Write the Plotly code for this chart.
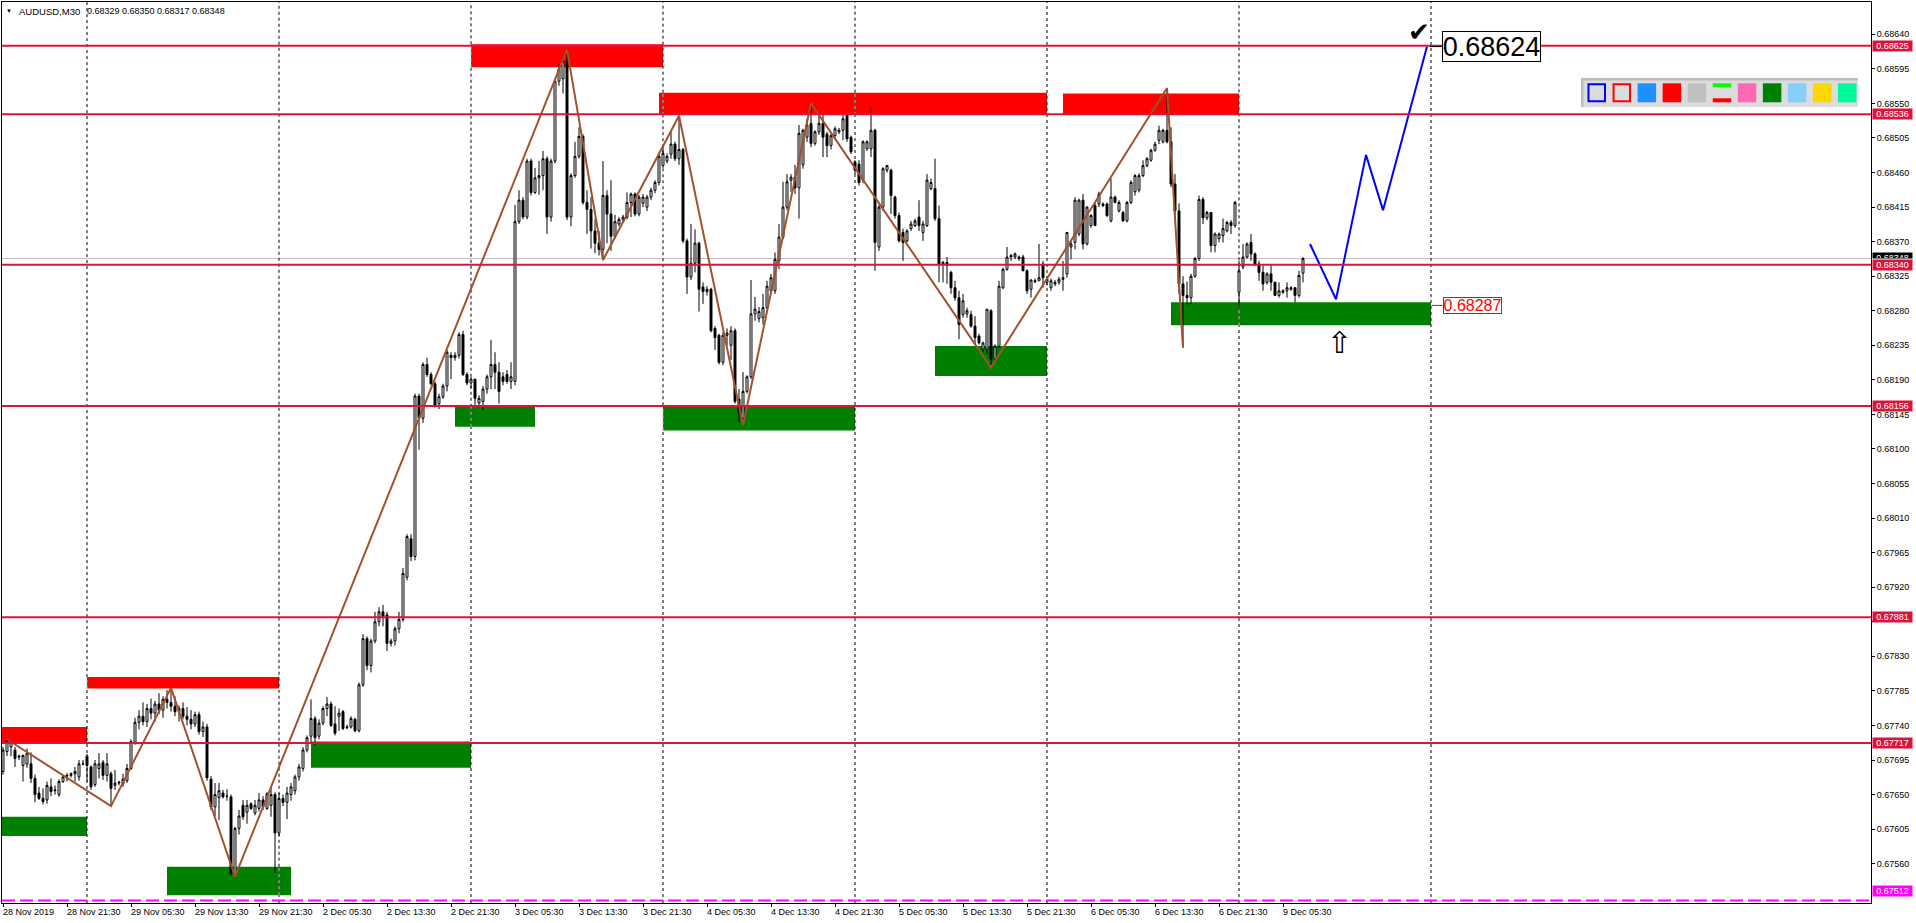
import plotly.graph_objects as go

# ---------------- data (prices in points above 0.67000) ----------------
opens = [
    680, 706, 712, 708, 700, 688, 690, 690, 671, 652,
    645, 643, 660, 655, 650, 667, 674, 675, 677, 673,
    690, 700, 686, 663, 684, 692, 675, 677, 662, 665,
    664, 668, 684, 718, 744, 752, 745, 762, 756, 768,
    760, 774, 770, 765, 758, 762, 752, 748, 742, 754,
    732, 738, 670, 634, 646, 652, 648, 647, 547, 606,
    636, 627, 638, 626, 632, 643, 632, 636, 650, 600,
    645, 640, 650, 655, 673, 684, 708, 726, 749, 726,
    743, 762, 768, 742, 752, 758, 737, 738, 748, 733,
    793, 853, 818, 850, 875, 888, 884, 847, 850, 866,
    878, 933, 983, 960, 1169, 1140, 1210, 1197, 1185, 1159,
    1168, 1182, 1222, 1219, 1222, 1249, 1197, 1186, 1191, 1160,
    1162, 1178, 1194, 1210, 1200, 1194, 1197, 1188, 1188, 1396,
    1424, 1402, 1475, 1434, 1453, 1456, 1478, 1402, 1475, 1579,
    1582, 1605, 1402, 1456, 1481, 1507, 1421, 1412, 1384, 1368,
    1360, 1430, 1406, 1377, 1393, 1399, 1402, 1421, 1432, 1406,
    1420, 1415, 1428, 1437, 1447, 1469, 1475, 1484, 1497, 1478,
    1490, 1371, 1324, 1342, 1368, 1311, 1305, 1308, 1257, 1248,
    1213, 1248, 1235, 1254, 1165, 1140, 1175, 1194, 1276, 1270,
    1271, 1284, 1306, 1306, 1345, 1376, 1415, 1450, 1454, 1440,
    1470, 1506, 1524, 1498, 1513, 1524, 1510, 1495, 1508, 1513,
    1515, 1535, 1506, 1474, 1471, 1450, 1491, 1491, 1515, 1363,
    1415, 1463, 1463, 1428, 1404, 1382, 1371, 1387, 1391, 1402,
    1382, 1391, 1439, 1439, 1400, 1341, 1343, 1330, 1310, 1297,
    1275, 1276, 1275, 1260, 1247, 1230, 1230, 1280, 1217, 1234,
    1310, 1334, 1352, 1350, 1348, 1350, 1332, 1308, 1318, 1319,
    1341, 1317, 1310, 1315, 1317, 1321, 1328, 1363, 1369, 1380,
    1424, 1367, 1391, 1417, 1419, 1419, 1419, 1397, 1428, 1410,
    1408, 1397, 1421, 1435, 1437, 1456, 1469, 1476, 1489, 1502,
    1500, 1515, 1500, 1445, 1410, 1315, 1300, 1297, 1325, 1348,
    1425, 1401, 1408, 1365, 1374, 1378, 1384, 1395, 1391, 1304,
    1337, 1350, 1369, 1354, 1341, 1330, 1317, 1328, 1317, 1300,
    1304, 1306, 1310, 1310, 1300, 1329,
]
highs = [
    712, 722, 720, 712, 702, 702, 710, 705, 676, 660,
    658, 667, 671, 662, 670, 675, 678, 679, 686, 695,
    695, 703, 688, 695, 704, 695, 704, 680, 682, 668,
    677, 690, 722, 750, 760, 770, 768, 775, 772, 782,
    778, 786, 789, 778, 766, 770, 764, 760, 758, 758,
    745, 742, 674, 665, 665, 656, 657, 650, 608, 630,
    643, 643, 640, 643, 652, 648, 653, 660, 653, 652,
    650, 660, 665, 676, 690, 712, 727, 774, 752, 748,
    765, 777, 771, 765, 762, 760, 741, 752, 750, 796,
    859, 856, 853, 888, 894, 897, 888, 853, 869, 888,
    945, 989, 989, 1172, 1172, 1213, 1219, 1200, 1188, 1172,
    1185, 1229, 1226, 1226, 1252, 1254, 1200, 1194, 1191, 1170,
    1182, 1197, 1242, 1226, 1213, 1200, 1203, 1213, 1418, 1437,
    1428, 1478, 1478, 1466, 1475, 1488, 1481, 1478, 1582, 1601,
    1610, 1620, 1459, 1500, 1519, 1510, 1437, 1428, 1399, 1384,
    1475, 1437, 1450, 1405, 1402, 1405, 1434, 1434, 1434, 1431,
    1432, 1431, 1440, 1450, 1484, 1494, 1485, 1513, 1500, 1534,
    1492, 1374, 1393, 1386, 1370, 1317, 1312, 1310, 1260, 1250,
    1252, 1257, 1260, 1257, 1178, 1200, 1196, 1320, 1298, 1285,
    1302, 1319, 1328, 1356, 1393, 1448, 1458, 1458, 1470, 1522,
    1517, 1530, 1550, 1515, 1537, 1537, 1513, 1510, 1520, 1518,
    1537, 1537, 1508, 1476, 1476, 1502, 1502, 1545, 1517, 1418,
    1467, 1470, 1465, 1430, 1408, 1387, 1386, 1397, 1400, 1424,
    1397, 1458, 1452, 1478, 1417, 1345, 1350, 1332, 1319, 1306,
    1302, 1284, 1280, 1273, 1250, 1240, 1282, 1282, 1236, 1319,
    1336, 1363, 1354, 1356, 1352, 1353, 1334, 1321, 1322, 1367,
    1345, 1325, 1322, 1320, 1324, 1345, 1382, 1371, 1428, 1426,
    1432, 1416, 1406, 1420, 1435, 1421, 1421, 1452, 1430, 1424,
    1410, 1423, 1450, 1458, 1459, 1476, 1480, 1491, 1500, 1521,
    1517, 1570, 1519, 1458, 1420, 1325, 1318, 1328, 1350, 1430,
    1428, 1410, 1408, 1382, 1382, 1400, 1397, 1398, 1423, 1345,
    1367, 1369, 1380, 1356, 1345, 1339, 1330, 1341, 1318, 1317,
    1308, 1317, 1312, 1310, 1332, 1350,
]
lows = [
    676, 700, 700, 686, 695, 667, 685, 665, 640, 643,
    637, 638, 648, 650, 647, 665, 667, 672, 667, 668,
    688, 667, 656, 660, 671, 669, 667, 635, 656, 662,
    660, 665, 682, 715, 735, 740, 738, 748, 745, 755,
    750, 762, 758, 752, 745, 748, 740, 735, 738, 728,
    725, 668, 630, 622, 617, 645, 642, 545, 543, 598,
    617, 612, 630, 623, 628, 630, 630, 621, 548, 596,
    635, 618, 642, 650, 668, 680, 705, 716, 714, 722,
    740, 752, 738, 727, 733, 734, 735, 736, 731, 731,
    790, 812, 809, 847, 869, 869, 837, 843, 844, 860,
    875, 929, 954, 955, 1099, 1134, 1194, 1183, 1154, 1152,
    1165, 1175, 1191, 1215, 1218, 1195, 1183, 1179, 1156, 1155,
    1150, 1172, 1178, 1178, 1159, 1183, 1185, 1178, 1183, 1393,
    1399, 1399, 1430, 1432, 1431, 1437, 1380, 1396, 1472, 1573,
    1563, 1398, 1390, 1453, 1478, 1418, 1380, 1361, 1355, 1352,
    1346, 1368, 1358, 1374, 1390, 1396, 1399, 1402, 1403, 1403,
    1415, 1410, 1424, 1433, 1443, 1466, 1472, 1478, 1475, 1470,
    1368, 1302, 1320, 1330, 1279, 1289, 1300, 1252, 1229, 1210,
    1209, 1235, 1216, 1159, 1135, 1131, 1172, 1191, 1267, 1265,
    1262, 1282, 1302, 1302, 1334, 1373, 1411, 1435, 1432, 1400,
    1465, 1500, 1493, 1495, 1509, 1480, 1480, 1490, 1505, 1510,
    1502, 1500, 1484, 1458, 1443, 1446, 1488, 1480, 1332, 1358,
    1410, 1460, 1406, 1400, 1369, 1345, 1369, 1384, 1389, 1384,
    1371, 1389, 1437, 1397, 1317, 1317, 1315, 1302, 1293, 1243,
    1271, 1271, 1258, 1236, 1236, 1226, 1223, 1206, 1214, 1232,
    1308, 1332, 1345, 1347, 1345, 1332, 1302, 1297, 1316, 1319,
    1310, 1313, 1306, 1312, 1314, 1306, 1323, 1347, 1360, 1377,
    1360, 1365, 1388, 1390, 1415, 1415, 1402, 1395, 1420, 1408,
    1396, 1395, 1419, 1430, 1434, 1454, 1467, 1474, 1487, 1497,
    1498, 1498, 1441, 1400, 1302, 1232, 1288, 1289, 1323, 1345,
    1393, 1398, 1356, 1356, 1369, 1369, 1382, 1380, 1388, 1284,
    1334, 1348, 1345, 1338, 1319, 1306, 1314, 1306, 1299, 1297,
    1302, 1297, 1306, 1291, 1297, 1317,
]
closes = [
    708, 720, 718, 697, 699, 701, 704, 671, 650, 645,
    641, 662, 654, 656, 667, 673, 675, 677, 680, 690,
    690, 688, 660, 690, 690, 675, 690, 658, 665, 666,
    670, 684, 719, 744, 752, 745, 762, 756, 768, 760,
    774, 770, 765, 758, 762, 752, 748, 742, 754, 732,
    738, 672, 634, 650, 655, 647, 648, 547, 606, 622,
    621, 636, 632, 636, 643, 634, 651, 650, 600, 645,
    640, 652, 660, 673, 686, 708, 724, 749, 724, 743,
    762, 768, 740, 730, 756, 736, 738, 749, 733, 793,
    853, 818, 850, 875, 888, 882, 847, 850, 866, 878,
    938, 986, 960, 1169, 1140, 1210, 1197, 1185, 1156, 1168,
    1182, 1226, 1219, 1222, 1249, 1197, 1186, 1191, 1166, 1166,
    1178, 1194, 1210, 1200, 1175, 1188, 1188, 1194, 1396, 1424,
    1402, 1475, 1434, 1453, 1456, 1478, 1402, 1475, 1579, 1595,
    1605, 1402, 1456, 1481, 1507, 1421, 1412, 1384, 1368, 1360,
    1430, 1406, 1377, 1396, 1399, 1402, 1421, 1432, 1406, 1428,
    1428, 1428, 1437, 1447, 1481, 1485, 1481, 1497, 1478, 1490,
    1371, 1324, 1342, 1368, 1308, 1305, 1308, 1254, 1245, 1213,
    1248, 1251, 1254, 1162, 1147, 1175, 1194, 1276, 1282, 1279,
    1284, 1312, 1323, 1347, 1376, 1415, 1448, 1454, 1440, 1511,
    1515, 1522, 1498, 1513, 1524, 1506, 1495, 1508, 1517, 1515,
    1530, 1504, 1487, 1463, 1447, 1500, 1500, 1515, 1369, 1415,
    1465, 1469, 1430, 1404, 1371, 1369, 1384, 1393, 1397, 1391,
    1393, 1450, 1447, 1400, 1341, 1343, 1339, 1310, 1297, 1262,
    1293, 1280, 1260, 1245, 1238, 1238, 1282, 1217, 1234, 1312,
    1334, 1350, 1350, 1354, 1350, 1332, 1306, 1320, 1319, 1323,
    1323, 1321, 1319, 1317, 1321, 1323, 1382, 1367, 1424, 1424,
    1367, 1415, 1404, 1391, 1432, 1417, 1404, 1428, 1421, 1421,
    1397, 1421, 1447, 1456, 1456, 1469, 1478, 1489, 1497, 1515,
    1515, 1500, 1445, 1410, 1315, 1300, 1297, 1325, 1348, 1425,
    1401, 1408, 1365, 1380, 1380, 1387, 1395, 1391, 1421, 1332,
    1350, 1367, 1354, 1341, 1330, 1315, 1328, 1317, 1300, 1306,
    1306, 1310, 1308, 1300, 1326, 1348,
]

x_tick_bars = [0, 16, 32, 48, 64, 80, 96, 112, 128, 144, 160, 176, 192, 208,
               224, 240, 256, 272, 288, 304, 320]
x_tick_labels = ["28 Nov 2019", "28 Nov 21:30", "29 Nov 05:30", "29 Nov 13:30",
                 "29 Nov 21:30", "2 Dec 05:30", "2 Dec 13:30", "2 Dec 21:30",
                 "3 Dec 05:30", "3 Dec 13:30", "3 Dec 21:30", "4 Dec 05:30",
                 "4 Dec 13:30", "4 Dec 21:30", "5 Dec 05:30", "5 Dec 13:30",
                 "5 Dec 21:30", "6 Dec 05:30", "6 Dec 13:30", "6 Dec 21:30",
                 "9 Dec 05:30"]
y_tick_labels = ["0.67560", "0.67605", "0.67650", "0.67695", "0.67740", "0.67785",
                 "0.67830", "0.67875", "0.67920", "0.67965", "0.68010", "0.68055",
                 "0.68100", "0.68145", "0.68190", "0.68235", "0.68280", "0.68325",
                 "0.68370", "0.68415", "0.68460", "0.68505", "0.68550", "0.68595",
                 "0.68640"]
# tick labels fully covered by price-line labels in the reference
y_tick_hidden = ["0.67875"]

level_labels = ["0.68625", "0.68536", "0.68340", "0.68156", "0.67881", "0.67717"]
support_label = "0.67512"
bid_label = "0.68348"

red_zones = [(-2, 21, 0.67717, 0.67738), (21, 69, 0.67788, 0.67803),
             (117, 165, 0.68597, 0.68627), (164, 261, 0.68535, 0.68564),
             (265, 309, 0.68536, 0.68563)]
green_zones = [(-2, 21, 0.67596, 0.67621), (41, 72, 0.67519, 0.67556),
               (77, 117, 0.67685, 0.67719), (113, 133, 0.68129, 0.68155),
               (165, 213, 0.68124, 0.68157), (233, 261, 0.68195, 0.68234),
               (292, 357, 0.68261, 0.68291)]

zigzag_bars = [1, 27, 42, 58, 141, 150, 169, 185, 202, 247, 291, 295]
zigzag_kind = ["H", "L", "H", "L", "H", "L", "H", "L", "H", "L", "H", "L"]

forecast_bars = [326.75, 333.25, 340.75, 345, 356]
forecast_prices = [0.68367, 0.68295, 0.68483, 0.68411, 0.68624]

grid_bars = [21, 69, 117, 165, 213, 261, 309, 357]

header_symbol = "AUDUSD,M30"
header_ohlc = "0.68329 0.68350 0.68317 0.68348"
target_label = "0.68624"
entry_label = "0.68287"

# ---------------- geometry ----------------
W, H = 1916, 923
ML, MR, MT, MB = 2, 45, 2, 20
X0, X1 = -0.25, 467.0
Y0, Y1 = 0.6750881, 0.6868206
FONT = "Liberation Sans, Arial, sans-serif"


def px(xp):
    return (xp - ML) / (W - ML - MR)


def py(yp):
    return (H - MB - yp) / (H - MT - MB)


def pr(v):
    return round(0.67 + v / 100000.0, 5)


n = min(len(opens), len(highs), len(lows), len(closes))
idx = list(range(n))
O = [pr(v) for v in opens[:n]]
Hh = [pr(v) for v in highs[:n]]
L = [pr(v) for v in lows[:n]]
C = [pr(v) for v in closes[:n]]

fig = go.Figure()

fig.add_trace(go.Candlestick(
    x=idx, open=O, high=Hh, low=L, close=C,
    increasing=dict(line=dict(color="black", width=1), fillcolor="white"),
    decreasing=dict(line=dict(color="black", width=1), fillcolor="black"),
    whiskerwidth=0, hoverinfo="skip", showlegend=False))

zz_y = [Hh[b] if k == "H" else L[b] for b, k in zip(zigzag_bars, zigzag_kind)]
fig.add_trace(go.Scatter(x=zigzag_bars, y=zz_y, mode="lines",
                         line=dict(color="#A0522D", width=2),
                         hoverinfo="skip", showlegend=False))
fig.add_trace(go.Scatter(x=forecast_bars, y=forecast_prices, mode="lines",
                         line=dict(color="#0000FF", width=2),
                         hoverinfo="skip", showlegend=False))

shapes = []
for (a, b, lo, hi) in red_zones:
    shapes.append(dict(type="rect", xref="x", yref="y", x0=a, x1=b, y0=lo, y1=hi,
                       fillcolor="#FF0000", line=dict(width=0), layer="below"))
for (a, b, lo, hi) in green_zones:
    shapes.append(dict(type="rect", xref="x", yref="y", x0=a, x1=b, y0=lo, y1=hi,
                       fillcolor="#008000", line=dict(width=0), layer="below"))

# bid line
bid = float(bid_label)
shapes.append(dict(type="line", xref="paper", yref="y", x0=0, x1=1, y0=bid, y1=bid,
                   line=dict(color="#C0C0C0", width=1), layer="below"))

# day separators (inverted colour where they cross zones)
for g in grid_bars:
    cuts = []
    for (a, b, lo, hi) in red_zones:
        if a <= g < b:
            cuts.append((lo, hi, "#00FFFF"))
    for (a, b, lo, hi) in green_zones:
        if a <= g < b:
            cuts.append((lo, hi, "#FF7FFF"))
    cuts.sort()
    start = Y0
    for lo, hi, col in cuts:
        if lo > start:
            shapes.append(dict(type="line", xref="x", yref="y", x0=g, x1=g, y0=start, y1=lo,
                               line=dict(color="black", width=1, dash="3px,3px"), layer="below"))
        shapes.append(dict(type="line", xref="x", yref="y", x0=g, x1=g, y0=lo, y1=hi,
                           line=dict(color=col, width=1, dash="3px,3px"), layer="below"))
        start = hi
    shapes.append(dict(type="line", xref="x", yref="y", x0=g, x1=g, y0=start, y1=Y1,
                       line=dict(color="black", width=1, dash="3px,3px"), layer="below"))

# horizontal levels
for lab in level_labels:
    v = float(lab)
    shapes.append(dict(type="line", xref="paper", yref="y", x0=0, x1=1, y0=v, y1=v,
                       line=dict(color="#DC143C", width=2), layer="above"))
sv = float(support_label)
shapes.append(dict(type="line", xref="paper", yref="y", x0=0, x1=1, y0=sv, y1=sv,
                   line=dict(color="#FF00FF", width=2, dash="13px,5px"), layer="above"))

# connectors for price labels
tv = float(target_label)
ev = float(entry_label)
shapes.append(dict(type="line", xref="x", yref="y", x0=356.75, x1=359.75, y0=tv, y1=tv,
                   line=dict(color="black", width=1), layer="above"))
shapes.append(dict(type="line", xref="x", yref="y", x0=357.2, x1=359.9, y0=ev, y1=ev,
                   line=dict(color="#FF0000", width=1), layer="above"))

# colour palette panel (top right)
shapes.append(dict(type="rect", xref="paper", yref="paper", x0=px(1581), x1=px(1858),
                   y0=py(107), y1=py(78), fillcolor="#DCDCDC", line=dict(width=0), layer="above"))
shapes.append(dict(type="rect", xref="paper", yref="paper", x0=px(1581), x1=px(1858),
                   y0=py(80.5), y1=py(78), fillcolor="#BEBEBE", line=dict(width=0), layer="above"))
shapes.append(dict(type="rect", xref="paper", yref="paper", x0=px(1581), x1=px(1583.5),
                   y0=py(107), y1=py(78), fillcolor="#BEBEBE", line=dict(width=0), layer="above"))
pal = ["outline:#0000FF", "outline:#FF0000", "#1E90FF", "#FF0000", "#C0C0C0", "bars",
       "#FF69B4", "#008000", "#87CEFA", "#FFD700", "#00FA9A"]
for k, c in enumerate(pal):
    xl = 1587.5 + k * 25.05
    xr = xl + 18.5
    yt, yb = 83.3, 102.3
    if c.startswith("outline:"):
        shapes.append(dict(type="rect", xref="paper", yref="paper", x0=px(xl + 1), x1=px(xr - 1),
                           y0=py(yb - 1), y1=py(yt + 1), fillcolor="#DCDCDC",
                           line=dict(color=c.split(":")[1], width=2), layer="above"))
    elif c == "bars":
        shapes.append(dict(type="rect", xref="paper", yref="paper", x0=px(xl), x1=px(xr),
                           y0=py(yt + 4), y1=py(yt), fillcolor="#00FF00", line=dict(width=0), layer="above"))
        shapes.append(dict(type="rect", xref="paper", yref="paper", x0=px(xl), x1=px(xr),
                           y0=py(yb), y1=py(yb - 4), fillcolor="#FF0000", line=dict(width=0), layer="above"))
    else:
        shapes.append(dict(type="rect", xref="paper", yref="paper", x0=px(xl), x1=px(xr),
                           y0=py(yb), y1=py(yt), fillcolor=c, line=dict(width=0), layer="above"))

ann = []
# x-axis labels
for b, t in zip(x_tick_bars, x_tick_labels):
    ann.append(dict(x=b, xref="x", y=py(912), yref="paper", text=t, showarrow=False,
                    xanchor="left", yanchor="middle", xshift=-2,
                    font=dict(family=FONT, size=9, color="black")))


# right axis price boxes
def price_box(text, yv, bg, yref="y", height=10, yanchor="middle", valign="middle"):
    ann.append(dict(x=1, xref="paper", y=yv, yref=yref, text=text, showarrow=False,
                    xanchor="left", yanchor=yanchor, xshift=1, bgcolor=bg,
                    width=39, height=height, borderpad=0, valign=valign,
                    font=dict(family=FONT, size=9, color="white")))


# bid label: only its top sliver shows above the 0.68340 label, as in the reference
price_box(bid_label, py(259.3), "black", yref="paper", height=5, yanchor="bottom", valign="top")
for lab in level_labels:
    price_box(lab, float(lab), "#DC143C")
price_box(support_label, py(891), "#FF00FF", yref="paper")

# header
ann.append(dict(x=px(8.5), xref="paper", y=py(11), yref="paper", text="▼", showarrow=False,
                xanchor="center", yanchor="middle", font=dict(family=FONT, size=6, color="black")))
ann.append(dict(x=px(17), xref="paper", y=py(11), yref="paper", text=header_symbol, showarrow=False,
                xanchor="left", yanchor="middle", font=dict(family=FONT, size=9.5, color="black")))
ann.append(dict(x=px(85), xref="paper", y=py(11), yref="paper", text=header_ohlc, showarrow=False,
                xanchor="left", yanchor="middle", font=dict(family=FONT, size=9, color="black")))

# target / entry labels
ann.append(dict(x=359.75, xref="x", y=tv, yref="y", text=target_label, showarrow=False,
                xanchor="left", yanchor="middle", bgcolor="white", bordercolor="black",
                borderwidth=1, borderpad=0, width=97, height=29,
                font=dict(family=FONT, size=27, color="black")))
ann.append(dict(x=359.9, xref="x", y=ev, yref="y", text=entry_label, showarrow=False,
                xanchor="left", yanchor="middle", bgcolor="white", bordercolor="#FF0000",
                borderwidth=1, borderpad=0, width=57, height=15,
                font=dict(family=FONT, size=16, color="#FF0000")))

# check mark and arrow
ann.append(dict(x=354, xref="x", y=0.68643, yref="y", text="✔", showarrow=False,
                xanchor="center", yanchor="middle",
                font=dict(family="DejaVu Sans", size=26, color="black")))
ann.append(dict(x=334, xref="x", y=0.68239, yref="y", text="⇧", showarrow=False,
                xanchor="center", yanchor="middle",
                font=dict(family="DejaVu Sans", size=30, color="black")))

y_ticktext = ["" if t in y_tick_hidden else t for t in y_tick_labels]

fig.update_layout(
    width=W, height=H,
    margin=dict(l=ML, r=MR, t=MT, b=MB, pad=0),
    paper_bgcolor="white", plot_bgcolor="white",
    font=dict(family=FONT, size=9, color="black"),
    showlegend=False,
    shapes=shapes, annotations=ann,
    hovermode=False,
    xaxis=dict(range=[X0, X1], showgrid=False, zeroline=False, showline=True,
               linecolor="black", linewidth=1, mirror=True, ticks="outside", ticklen=3,
               tickcolor="black", tickvals=x_tick_bars, showticklabels=False,
               rangeslider=dict(visible=False), fixedrange=True),
    yaxis=dict(range=[Y0, Y1], side="right", showgrid=False, zeroline=False, showline=True,
               linecolor="black", linewidth=1, mirror=True, ticks="outside", ticklen=3,
               tickcolor="black", tickvals=[float(t) for t in y_tick_labels],
               ticktext=y_ticktext, tickfont=dict(family=FONT, size=9, color="black"),
               fixedrange=True),
)

fig.write_html(
    "out.html",
    config={"displayModeBar": False},
    post_script="document.body.style.margin='0';document.body.style.padding='0';"
                "document.body.style.overflow='hidden';"
                "document.documentElement.style.overflow='hidden';",
)
